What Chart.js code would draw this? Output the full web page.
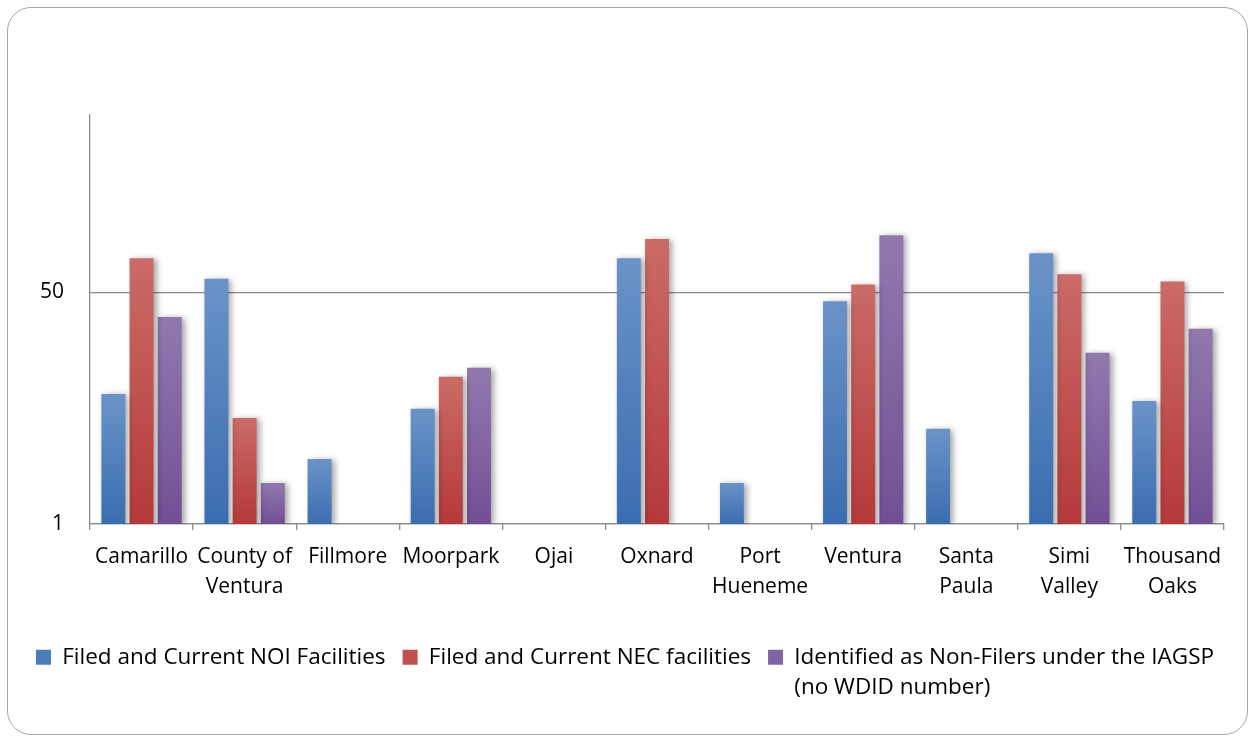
<!DOCTYPE html>
<html>
<head>
<meta charset="utf-8">
<script src="https://cdn.jsdelivr.net/npm/chart.js@4"></script>
<style>
  html, body { margin: 0; padding: 0; background: #fff; }
  #frame { position: absolute; left: 7px; top: 7px; width: 1241px; height: 728px;
           border: 1.5px solid #a6a6a6; border-radius: 24px; box-sizing: border-box; }
  #wrap { position: absolute; left: 0; top: 0; width: 1254px; height: 738px; }
</style>
</head>
<body>
<div id="frame"></div>
<div id="wrap"><canvas id="c" width="1254" height="738"></canvas></div>
<script>
const categories = ["Camarillo", ["County of", "Ventura"], "Fillmore", "Moorpark", "Ojai", "Oxnard",
  ["Port", "Hueneme"], "Ventura", ["Santa", "Paula"], ["Simi", "Valley"], ["Thousand", "Oaks"]];
const seriesNames = ["Filed and Current NOI Facilities", "Filed and Current NEC facilities",
  "Identified as Non-Filers under the IAGSP"];
const legendSecondLine = "(no WDID number)";
const noiFacilities = [9, 63, 3, 7, null, 89, 2, 43, 5, 97, 8];
const necFacilities = [89, 6, null, 12, null, 123, null, 57, null, 68, 60];
const nonFilers     = [33, 2, null, 14, null, null, null, 131, null, 18, 27];
const yTicks = [1, 50];
const yMin = 1, yMax = 1000;

const topColors = ["#6b93c9", "#cb6b67", "#9179ae"];
const botColors = ["#3a6db0", "#b5393a", "#724f95"];
const midColors = ["#4a7ebb", "#c0504d", "#8064a2"];

const FONT_FAMILY = '"Open Sans", Lato, sans-serif';
const LEGEND_SIZE = 22.5, LEGEND_LH = 30.5, LEGEND_PAD = 17, LEGEND_BOX = 15;

function barFill(i) {
  return (c) => {
    if (c.type !== 'data') return midColors[i];
    const sc = c.chart.scales.y;
    if (!sc || c.parsed == null || c.parsed.y == null) return midColors[i];
    const y0 = sc.getPixelForValue(c.parsed.y);
    const y1 = sc.bottom;
    if (!isFinite(y0) || !isFinite(y1) || y0 === y1) return midColors[i];
    const g = c.chart.ctx.createLinearGradient(0, y0, 0, y1);
    g.addColorStop(0, topColors[i]);
    g.addColorStop(1, botColors[i]);
    return g;
  };
}

const helperPlugin = {
  id: 'helper',
  afterLayout(chart) {
    if (chart.legend) { chart.legend.left += 13; chart.legend.right += 13; }
  },
  beforeDatasetsDraw(chart) {
    const ctx = chart.ctx;
    ctx.save();
    ctx.shadowColor = 'rgba(0,0,0,0.35)';
    ctx.shadowBlur = 6;
    ctx.shadowOffsetX = 3;
    ctx.shadowOffsetY = 1;
  },
  afterDatasetsDraw(chart) { chart.ctx.restore(); },
  afterDraw(chart) {
    // second line of the third legend entry, placed under its first line
    const lg = chart.legend;
    if (!lg || !lg.legendItems || !lg.lineWidths) return;
    const ctx = chart.ctx;
    ctx.save();
    ctx.font = LEGEND_SIZE + 'px ' + FONT_FAMILY;
    const widths = lg.legendItems.map(it => LEGEND_BOX + LEGEND_SIZE / 2 + ctx.measureText(it.text).width);
    let x = (lg.left + LEGEND_PAD + lg.right - lg.lineWidths[0]) / 2;
    x += widths[0] + LEGEND_PAD + widths[1] + LEGEND_PAD;
    const textX = x + LEGEND_BOX + LEGEND_SIZE / 2;
    const y = lg.top + LEGEND_PAD + LEGEND_SIZE / 2 + LEGEND_LH;
    ctx.fillStyle = '#000';
    ctx.textAlign = 'left';
    ctx.textBaseline = 'middle';
    ctx.fillText(legendSecondLine, textX, y);
    ctx.restore();
  }
};

Chart.defaults.color = '#000';
Chart.defaults.font.family = FONT_FAMILY;

const data = {
  labels: categories,
  datasets: [noiFacilities, necFacilities, nonFilers].map((vals, i) => ({
    label: seriesNames[i],
    data: vals,
    backgroundColor: barFill(i),
    borderWidth: 0,
    categoryPercentage: 0.82,
    barPercentage: 0.85
  }))
};

new Chart(document.getElementById('c'), {
  type: 'bar',
  data,
  plugins: [helperPlugin],
  options: {
    responsive: false,
    animation: false,
    layout: { padding: { top: 115, left: 0, right: 30, bottom: 59.5 } },
    plugins: {
      tooltip: { enabled: false },
      legend: {
        position: 'bottom',
        labels: {
          boxWidth: LEGEND_BOX, boxHeight: LEGEND_BOX, padding: LEGEND_PAD,
          font: { size: LEGEND_SIZE, lineHeight: LEGEND_LH / LEGEND_SIZE },
          color: '#000',
          generateLabels(chart) {
            return chart.data.datasets.map((ds, i) => ({
              text: seriesNames[i],
              fillStyle: midColors[i],
              strokeStyle: midColors[i],
              lineWidth: 0,
              hidden: false,
              datasetIndex: i
            }));
          }
        }
      }
    },
    scales: {
      x: {
        grid: { display: true, drawOnChartArea: false, offset: true, tickLength: 6, color: '#8c8c8c', lineWidth: 1.3 },
        border: { color: '#8c8c8c', width: 1.3 },
        ticks: { font: { size: 21, lineHeight: 1.43 }, padding: 12, maxRotation: 0, autoSkip: false, color: '#000' },
        afterFit(s) { s.height = 105; }
      },
      y: {
        type: 'logarithmic',
        min: yMin, max: yMax,
        afterBuildTicks(s) { s.ticks = yTicks.map(v => ({ value: v })); },
        grid: { color: '#8c8c8c', lineWidth: 1.3, drawTicks: false },
        border: { color: '#8c8c8c', width: 1.3 },
        ticks: { font: { size: 21 }, padding: 26, color: '#000', callback: (v) => String(v) },
        afterFit(s) { s.width = 90; }
      }
    }
  }
});
</script>
</body>
</html>
